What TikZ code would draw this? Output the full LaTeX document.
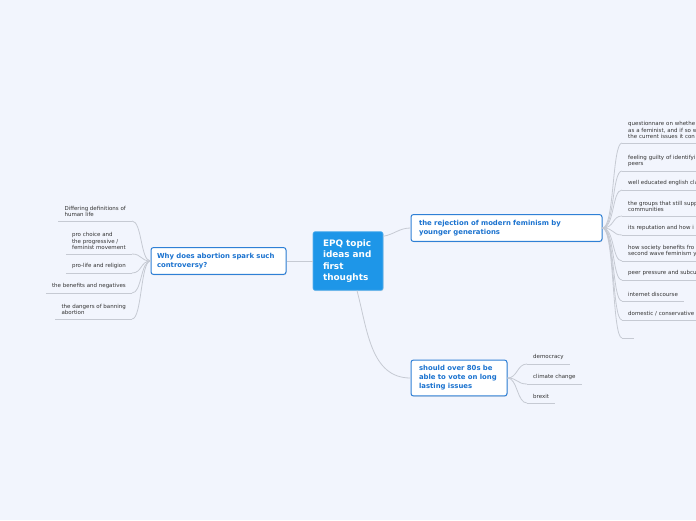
\documentclass[tikz,border=0pt]{standalone}
\usepackage{fontspec}
\setmainfont{DejaVu Sans}
\usetikzlibrary{shadows}
\definecolor{mapBack}{HTML}{F2F5FD}
\definecolor{mapCore}{HTML}{1E96E8}
\definecolor{mapCoreLine}{HTML}{5AB2EE}
\definecolor{mapEdge}{HTML}{2F80D6}
\definecolor{mapInk}{HTML}{1A72CF}
\definecolor{mapTwig}{HTML}{C6CAD3}
\definecolor{mapLeaf}{HTML}{333333}

\begin{document}
\begin{tikzpicture}[
  x=1pt, y=-1pt,
  core/.style={fill=mapCore, draw=mapCoreLine, line width=0.6pt, rounded corners=2pt,
               text=white, align=left, text width=50pt, inner xsep=10pt, inner ysep=8pt,
               font=\fontsize{8.9}{11.3}\selectfont\bfseries,
               drop shadow={shadow xshift=0.5pt, shadow yshift=-0.8pt, opacity=0.2}},
  topic/.style={fill=white, draw=mapEdge, line width=1pt, rounded corners=2.5pt,
                text=mapInk, align=left, inner xsep=8pt, inner ysep=5.6pt,
                font=\fontsize{6.9}{9}\selectfont\bfseries,
                drop shadow={shadow xshift=0.5pt, shadow yshift=-0.8pt, opacity=0.2}},
  leaf/.style={text=mapLeaf, align=left, inner xsep=6pt, inner ysep=4pt,
               font=\fontsize{5.5}{6.6}\selectfont},
  leafcut/.style={leaf, text width=90pt},
  twig/.style={draw=mapTwig, line width=0.8pt}
]
\fill[mapBack] (0,0) rectangle (696,520);
\useasboundingbox (0,0) rectangle (696,520);
\clip (0,0) rectangle (696,520);

\node[core] (epq) at (348,261) {EPQ topic\\ideas and\\first\\thoughts};

\node[topic, text width=175pt] (reject) at (506.5,228)
  {the rejection of modern feminism by\\younger generations};
\node[topic, text width=80pt] (elder) at (459,378)
  {should over 80s be\\able to vote on long\\lasting issues};
\node[topic, text width=123pt, inner xsep=6pt] (abort) at (218.5,261)
  {Why does abortion spark such\\controversy?};

\draw[twig] (epq.35) to[out=10,in=180] (reject.west);
\draw[twig] (epq.south) ++(9,0) coordinate (epqfoot);
\draw[twig] (epqfoot) to[out=-75,in=180] (elder.west);
\draw[twig] (epq.west) -- (abort.east);

% rejection of feminism
\node[leafcut, anchor=south west] (r1) at (622,143)
  {questionnare on whethe\\as a feminist, and if so w\\the current issues it con};
\node[leafcut, anchor=south west] (r2) at (622,171) {feeling guilty of identifyi\\peers};
\node[leafcut, anchor=south west] (r3) at (622,190) {well educated english cla};
\node[leafcut, anchor=south west] (r4) at (622,216) {the groups that still supp\\communities};
\node[leafcut, anchor=south west] (r5) at (622,235) {its reputation and how i};
\node[leafcut, anchor=south west] (r6) at (622,261) {how society benefits fro\\second wave feminism y};
\node[leafcut, anchor=south west] (r7) at (622,280) {peer pressure and subcu};
\node[leaf, anchor=south west] (r8) at (622,301) {internet discourse};
\node[leafcut, anchor=south west] (r9) at (622,320) {domestic / conservative};
\node[leaf, anchor=south west] (r10) at (622,338) {};

% over 80s
\node[leaf, anchor=south west] (v1) at (527,364) {democracy};
\node[leaf, anchor=south west] (v2) at (527,384) {climate change};
\node[leaf, anchor=south west] (v3) at (527,403) {brexit};

% abortion
\node[leaf, anchor=south east] (l1) at (132,221) {Differing definitions of\\human life};
\node[leaf, anchor=south east] (l2) at (132,254) {pro choice and\\the progressive /\\feminist movement};
\node[leaf, anchor=south east] (l3) at (132,273) {pro-life and religion};
\node[leaf, anchor=south east] (l4) at (132,293) {the benefits and negatives};
\node[leaf, anchor=south east] (l5) at (132,319) {the dangers of banning\\abortion};

\foreach \i in {1,...,10} {
  \draw[twig] (r\i.south west) -- (r\i.south east);
  \draw[twig] (reject.east) .. controls +(12,0) and +(-10,0) .. (r\i.south west);
}
\foreach \i in {1,2,3} {
  \draw[twig] (v\i.south west) -- (v\i.south east);
  \draw[twig] (elder.east) .. controls +(10,0) and +(-10,0) .. (v\i.south west);
}
\foreach \i in {1,...,5} {
  \draw[twig] (l\i.south west) -- (l\i.south east);
  \draw[twig] (abort.west) .. controls +(-10,0) and +(10,0) .. (l\i.south east);
}
\end{tikzpicture}
\end{document}
